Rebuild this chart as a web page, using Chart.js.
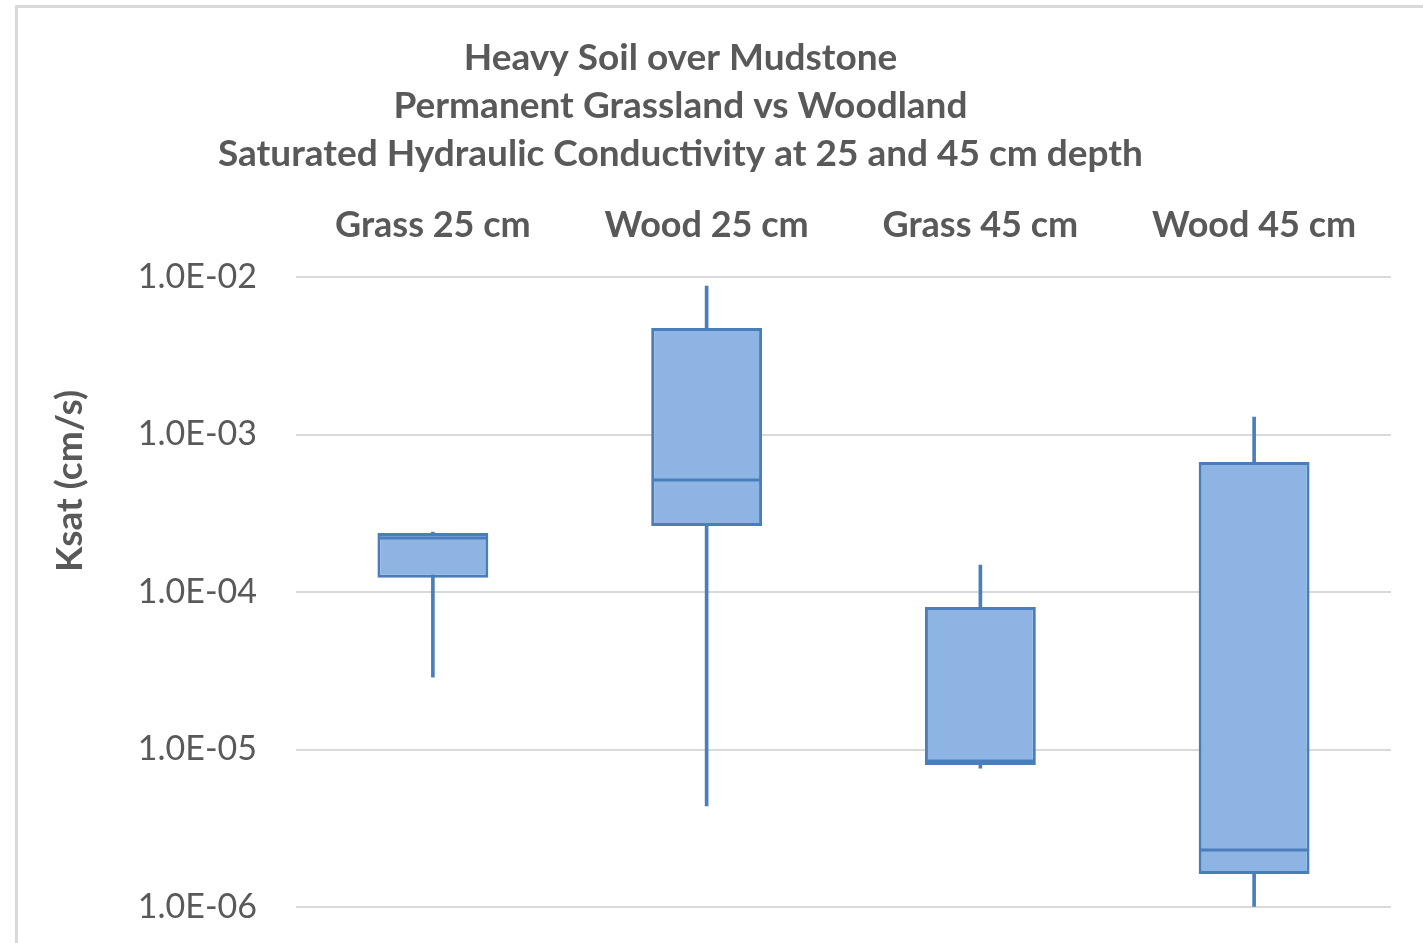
<!DOCTYPE html>
<html>
<head>
<meta charset="utf-8">
<script src="https://cdn.jsdelivr.net/npm/chart.js@4.4.1/dist/chart.umd.min.js"></script>
<style>
    html, body { margin: 0; padding: 0; background: #fff; overflow: hidden; }
    #wrap { position: relative; width: 1423px; height: 943px; overflow: hidden; }
    #frame { position: absolute; left: 15px; top: 5px; width: 1500px; height: 1000px;
             border: 3px solid #d9d9d9; box-sizing: border-box; }
    /* canvas sticks out a bit on the left so the title centres like the original */
    canvas { position: absolute; left: -30px; top: 0; }
</style>
</head>
<body>
<div id="wrap">
    <div id="frame"></div>
    <canvas id="ksatChart" width="1453" height="943"></canvas>
</div>
<script>
const categories = ['Grass 25 cm', 'Wood 25 cm', 'Grass 45 cm', 'Wood 45 cm'];
const minValues = [2.88e-5, 4.38e-6, 7.6e-6, 1.01e-6];
const q1Values = [1.23e-4, 2.62e-4, 7.97e-6, 1.62e-6];
const medianValues = [2.2e-4, 5.14e-4, 8.45e-6, 2.3e-6];
const q3Values = [2.37e-4, 4.74e-3, 8.03e-5, 6.68e-4];
const maxValues = [2.4e-4, 8.77e-3, 1.48e-4, 1.29e-3];
const yTicks = [1e-6, 1e-5, 1e-4, 1e-3, 1e-2];
const yTickLabels = ['1.0E-06', '1.0E-05', '1.0E-04', '1.0E-03', '1.0E-02'];

const titleLines = [
    'Heavy Soil over Mudstone',
    'Permanent Grassland vs Woodland',
    'Saturated Hydraulic Conductivity at 25 and 45 cm depth'
];

const GREY = '#595959';
const BOX_FILL = '#8eb4e3';
const BOX_LINE = '#4a7ebb';

Chart.defaults.font.family = 'Lato, "Open Sans", sans-serif';

// axis title drawn by hand so it sits where the original has it
const yTitle = {
    id: 'yTitle',
    afterDraw(chart) {
        const { ctx, chartArea, scales } = chart;
        ctx.save();
        ctx.translate(scales.y.left + 100, chartArea.top + 204);
        ctx.rotate(-Math.PI / 2);
        ctx.font = 'bold 37px Lato, "Open Sans", sans-serif';
        ctx.fillStyle = GREY;
        ctx.textAlign = 'center';
        ctx.textBaseline = 'middle';
        ctx.fillText('Ksat (cm/s)', 0, 0);
        ctx.restore();
    }
};

window.onload = () => {
    const ctx = document.getElementById('ksatChart').getContext('2d');

    new Chart(ctx, {
        type: 'bar',
        data: {
            labels: categories,
            datasets: [
                {
                    // median line
                    type: 'line',
                    data: medianValues,
                    showLine: false,
                    pointStyle: 'line',
                    pointRadius: 54,
                    pointHoverRadius: 54,
                    borderColor: BOX_LINE,
                    borderWidth: 3,
                    pointBorderWidth: 3,
                    order: 0
                },
                {
                    // box q1..q3
                    data: categories.map((_, i) => [q1Values[i], q3Values[i]]),
                    backgroundColor: BOX_FILL,
                    borderColor: BOX_LINE,
                    borderWidth: 3,
                    borderSkipped: false,
                    grouped: false,
                    order: 1
                },
                {
                    // whiskers
                    data: categories.map((_, i) => [minValues[i], maxValues[i]]),
                    backgroundColor: BOX_LINE,
                    borderWidth: 0,
                    barThickness: 3,
                    grouped: false,
                    order: 2
                }
            ]
        },
        options: {
            responsive: false,
            animation: false,
            categoryPercentage: 1,
            barPercentage: 0.405,
            layout: { autoPadding: false, padding: { top: 0, right: 32, bottom: 36, left: 0 } },
            plugins: {
                legend: { display: false },
                tooltip: { enabled: false },
                title: {
                    display: true,
                    text: titleLines,
                    color: GREY,
                    font: { size: 37, weight: 'bold', lineHeight: '48px' },
                    padding: { top: 34, bottom: 0 }
                }
            },
            scales: {
                x: {
                    position: 'top',
                    grid: { display: false, drawTicks: false },
                    border: { display: false },
                    ticks: { color: GREY, font: { size: 36, weight: 'bold' }, padding: 30 },
                    afterFit: s => {
                        s.height = 99;
                        s.paddingLeft = 0;
                        s.paddingRight = 0;
                    }
                },
                y: {
                    type: 'logarithmic',
                    min: 1e-6,
                    max: 1e-2,
                    grid: { color: '#d9d9d9', lineWidth: 2, drawTicks: false },
                    border: { display: false },
                    ticks: {
                        color: GREY,
                        font: { size: 34 },
                        padding: 39,
                        callback: (v, i) => yTickLabels[i]
                    },
                    afterBuildTicks: s => { s.ticks = yTicks.map(v => ({ value: v })); },
                    afterFit: s => {
                        s.width = 326;
                        s.paddingTop = 0;
                        s.paddingBottom = 0;
                    }
                }
            }
        },
        plugins: [yTitle]
    });
};
</script>
</body>
</html>
